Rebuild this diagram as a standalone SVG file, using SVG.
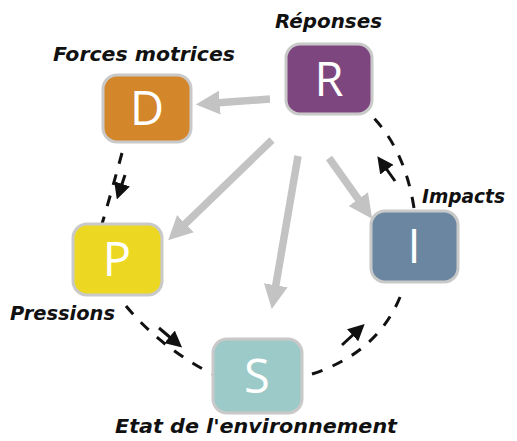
<svg xmlns="http://www.w3.org/2000/svg" width="517" height="441" viewBox="0 0 517 441">
<style>
.box{stroke:#c9c9c9;stroke-width:3}
.let{font-family:"Open Sans","DejaVu Sans",sans-serif;font-size:47px;fill:#ffffff;text-anchor:middle}
.lab{font-family:"DejaVu Sans","Open Sans",sans-serif;font-size:20px;font-weight:bold;font-style:italic;fill:#111111}
.grey{stroke:#c3c3c3;stroke-width:7.5;fill:none;marker-end:url(#gh)}
.dash{stroke:#111111;stroke-width:3;fill:none;stroke-dasharray:11 11}
.arr{stroke:#111111;stroke-width:3;fill:none;marker-end:url(#bh)}
</style>
<defs>
<marker id="gh" viewBox="0 0 10 10" refX="2" refY="5" markerWidth="3.2" markerHeight="3.2" orient="auto" markerUnits="strokeWidth">
<path d="M0,0 L10,5 L0,10 z" fill="#c3c3c3"/>
</marker>
<marker id="bh" viewBox="0 0 10 10" refX="2" refY="5" markerWidth="5.5" markerHeight="5.5" orient="auto" markerUnits="strokeWidth">
<path d="M0,0 L10,5 L0,10 z" fill="#111111"/>
</marker>
</defs>
<rect width="517" height="441" fill="#ffffff"/>
<g id="connectors">
<line class="grey" x1="270" y1="99" x2="215" y2="103"/>
<line class="grey" x1="272" y1="140" x2="182" y2="227"/>
<line class="grey" x1="298" y1="156" x2="275" y2="290"/>
<line class="grey" x1="329" y1="158" x2="361" y2="203"/>
<path class="dash" d="M122,153 Q112,190 102,224"/>
<path class="dash" d="M126,306 Q160,347 212,374"/>
<path class="dash" d="M312,374 Q380,352 402,292"/>
<path class="dash" d="M414,208 Q405,150 372,116"/>
<line class="arr" x1="125" y1="175" x2="121" y2="187"/>
<line class="arr" x1="159" y1="328" x2="172" y2="339"/>
<line class="arr" x1="342" y1="345" x2="355" y2="333"/>
<line class="arr" x1="395" y1="181" x2="385" y2="167"/>
</g>
<g id="node-R">
<rect class="box" x="286" y="44" width="86" height="70" rx="14" fill="#7e467e"/>
<text class="let" x="329" y="96">R</text>
<text class="lab" x="275" y="28" textLength="107" lengthAdjust="spacingAndGlyphs">Réponses</text>
</g>
<g id="node-D">
<rect class="box" x="103" y="75" width="88" height="67" rx="14" fill="#d4862a"/>
<text class="let" x="147" y="125">D</text>
<text class="lab" x="53" y="61" textLength="182" lengthAdjust="spacingAndGlyphs">Forces motrices</text>
</g>
<g id="node-P">
<rect class="box" x="73" y="224" width="89" height="71" rx="14" fill="#ecd823"/>
<text class="let" x="117" y="276">P</text>
<text class="lab" x="10" y="320" textLength="105" lengthAdjust="spacingAndGlyphs">Pressions</text>
</g>
<g id="node-I">
<rect class="box" x="371" y="211" width="87" height="71" rx="14" fill="#6a86a0"/>
<text class="let" x="414" y="263">I</text>
<text class="lab" x="422" y="203" textLength="83" lengthAdjust="spacingAndGlyphs">Impacts</text>
</g>
<g id="node-S">
<rect class="box" x="213" y="339" width="89" height="74" rx="14" fill="#9ccac8"/>
<text class="let" x="257" y="393">S</text>
<text class="lab" x="115" y="433" textLength="282" lengthAdjust="spacingAndGlyphs">Etat de l'environnement</text>
</g>
</svg>
